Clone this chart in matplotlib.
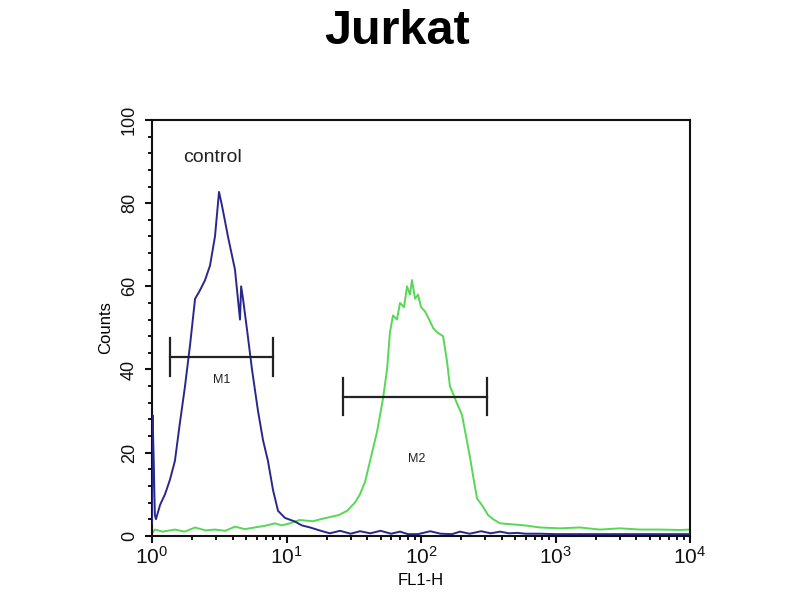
import numpy as np
import matplotlib
matplotlib.use("Agg")
import matplotlib.pyplot as plt
from matplotlib.ticker import LogLocator, MultipleLocator

plt.rcParams['font.family'] = ['Liberation Sans', 'DejaVu Sans']
plt.rcParams['mathtext.fontset'] = 'custom'
plt.rcParams['mathtext.rm'] = 'Liberation Sans'
plt.rcParams['mathtext.it'] = 'Liberation Sans'

title = "Jurkat"
x_label = "FL1-H"
y_label = "Counts"

control_fl1 = [1.00, 1.01, 1.03, 1.05, 1.07, 1.15, 1.25, 1.36, 1.48, 1.61, 1.76, 1.92,
               2.09, 2.27, 2.48, 2.70, 2.94, 3.15, 3.31, 3.67, 4.14, 4.51, 4.60, 4.75,
               5.09, 5.54, 6.14, 6.69, 7.28, 7.94, 8.65, 9.75, 11.6, 13.0, 15.0, 18.0,
               21.0, 25.0, 30.0, 35.2, 42.0, 50.0, 60.0, 69.8, 80.0, 95.0, 117, 140,
               170, 195, 230, 280, 330, 387, 450, 520, 600, 767, 1000, 1520, 2500, 4000, 10000]
control_counts = [3, 29, 18, 5, 4, 7.5, 10, 13.5, 18, 27, 36, 46,
                  57, 59, 61.5, 65, 72, 82.7, 79.5, 72, 64, 52, 60, 57,
                  49.5, 40, 30, 23, 18, 11, 6, 4.3, 3.4, 2.5, 2, 1.2,
                  0.6, 1.2, 0.5, 1.1, 0.6, 1.2, 0.5, 1.0, 0.4, 0.4, 1.1, 0.5,
                  0.4, 1.0, 0.5, 1.1, 0.6, 1.0, 0.6, 0.7, 0.5, 0.5, 0.4, 0.4, 0.4, 0.4, 0.4]

sample_fl1 = [1.00, 1.05, 1.20, 1.48, 1.75, 2.09, 2.50, 2.94, 3.50, 4.14, 4.90, 5.80,
              6.90, 8.20, 9.20, 10.6, 12.5, 15.7, 18.0, 21.0, 24.5, 28.2, 32.3, 35.2,
              38.4, 41.8, 47.1, 52.2, 55.9, 58.8, 61.9, 66.3, 69.8, 74.8, 78.7, 82.8,
              85.7, 90.3, 95.0, 100, 107, 115, 123, 131, 146, 156, 164, 179, 202,
              216, 231, 248, 261, 289, 315, 343, 387, 459, 593, 767, 1080, 1520,
              2140, 3020, 4250, 5980, 8430, 10000]
sample_counts = [0.5, 1.5, 1.0, 1.5, 1.0, 2.0, 1.3, 1.5, 1.2, 2.2, 1.6, 2.0,
                 2.4, 3.0, 2.5, 3.0, 3.8, 3.5, 4.0, 4.5, 5.0, 6.0, 8.0, 10,
                 13, 18, 25, 33, 40, 49, 53, 52, 56, 55, 60, 58,
                 61.5, 57, 58, 55, 54, 52, 50, 49, 48, 42, 36, 33, 29,
                 24, 19, 13, 9, 7, 5, 4, 3.0, 2.8, 2.5, 2.0, 1.8, 2.0,
                 1.5, 1.8, 1.5, 1.5, 1.4, 1.5]

markers = ["M1", "M2"]
marker_lo = [1.36, 26.3]
marker_hi = [7.94, 309]
marker_level = [43, 33.5]
marker_label_x = [3.3, 93]
marker_label_y = [37.5, 18.5]

fig = plt.figure(figsize=(8, 6), dpi=100)
ax = fig.add_axes([0.19, 0.107, 0.6725, 0.693])

ax.plot(sample_fl1, sample_counts, color='#56d856', lw=1.4, zorder=2)
ax.plot(control_fl1, control_counts, color='#28288c', lw=1.4, zorder=3)

for name, lo, hi, lev, lx, ly in zip(markers, marker_lo, marker_hi, marker_level,
                                     marker_label_x, marker_label_y):
    ax.plot([lo, hi], [lev, lev], color='#222222', lw=1.6, zorder=4)
    ax.plot([lo, lo], [lev - 4.5, lev + 4.5], color='#222222', lw=1.6, zorder=4)
    ax.plot([hi, hi], [lev - 4.5, lev + 4.5], color='#222222', lw=1.6, zorder=4)
    ax.text(lx, ly, name, fontsize=9, ha='center', va='center', color='#222222')

ax.text(2.8, 91, "control", fontsize=14, ha='center', va='center', color='#222222')

ax.set_xscale('log')
ax.set_xlim(1, 10000)
ax.set_ylim(0, 100)
ax.xaxis.set_major_locator(LogLocator(base=10, numticks=10))
ax.xaxis.set_minor_locator(LogLocator(base=10, subs=np.arange(2, 10), numticks=20))
ax.yaxis.set_major_locator(MultipleLocator(20))
ax.yaxis.set_minor_locator(MultipleLocator(4))

ax.tick_params(axis='both', which='major', direction='out', length=5, width=1.5,
               colors='#111111')
ax.tick_params(axis='x', which='major', labelsize=15, pad=2)
ax.tick_params(axis='y', which='major', labelsize=13, pad=5)
ax.tick_params(axis='both', which='minor', direction='out', length=3, width=1.3)
for lbl in ax.get_yticklabels():
    lbl.set_rotation(90)
    lbl.set_va('center')

for s in ax.spines.values():
    s.set_linewidth(1.5)
    s.set_color('#111111')

ax.set_xlabel(x_label, fontsize=12, labelpad=4)
ax.set_ylabel(y_label, fontsize=12, labelpad=6)
fig.text(0.497, 0.947, title, fontsize=35, fontweight='bold', ha='center', va='center')

fig.savefig("out.png", dpi=100)
